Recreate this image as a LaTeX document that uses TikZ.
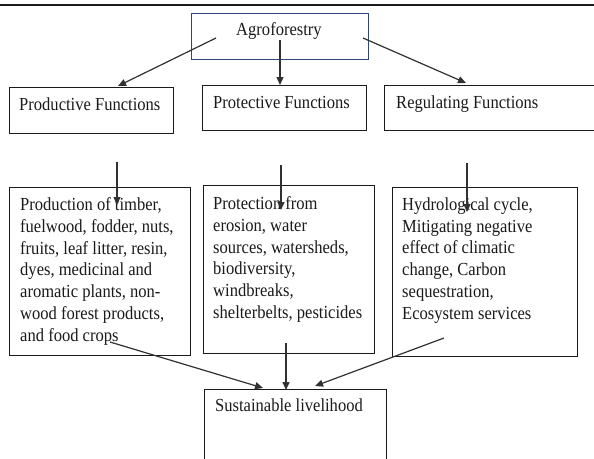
\documentclass[tikz,border=0pt]{standalone}
\usepackage{fontspec}
\setmainfont{Liberation Serif}
\newfontfamily\reffont[FakeStretch=0.9]{Liberation Serif}
\usetikzlibrary{arrows.meta}
\definecolor{navy}{HTML}{2E4677}
\definecolor{ink}{HTML}{1A1A1A}
\begin{document}
\begin{tikzpicture}[x=1pt,y=-1pt,
  box/.style={draw=ink, line width=1.3pt, inner sep=0pt, anchor=north west},
  txt/.style={inner sep=0pt, text=ink, font=\reffont\fontsize{18.4}{21.8}\selectfont, align=left},
  arr/.style={draw=ink!90, line width=1.2pt, -{Triangle[length=8pt,width=7pt]}}]
\clip (0,0) rectangle (594,458);
\fill[white] (0,0) rectangle (594,458);
% top rule
\coordinate (rl) at (0,5);
\coordinate (rr) at (594,5);
\draw[line width=2pt, draw=ink] (rl) -- (rr);
% boxes
\node[box, draw=navy, minimum width=177pt, minimum height=46pt] (agro) at (191,13) {};
\node[box, minimum width=164pt, minimum height=46pt] (prod) at (9,87) {};
\node[box, minimum width=164pt, minimum height=45pt] (prot) at (202,85) {};
\node[box, minimum width=230pt, minimum height=45pt] (regu) at (384,85) {};
\node[box, minimum width=181pt, minimum height=168pt] (pbox) at (9,187) {};
\node[box, minimum width=171pt, minimum height=168pt] (tbox) at (203,185) {};
\node[box, minimum width=185pt, minimum height=169pt] (hbox) at (392,187) {};
\node[box, minimum width=182pt, minimum height=90pt] (sust) at (204,389) {};
% texts
\node[txt, anchor=base] (agrot) at (279,35) {Agroforestry};
\node[txt, anchor=base west] (prodt) at (19,110) {Productive Functions};
\node[txt, anchor=base west] (prott) at (213,108) {Protective Functions};
\node[txt, anchor=base west] (regut) at (396,108) {Regulating Functions};
\node[txt, anchor=north west] (pboxt) at (20,197.4) {Production of timber,\\fuelwood, fodder, nuts,\\fruits, leaf litter, resin,\\dyes, medicinal and\\aromatic plants, non-\\wood forest products,\\and food crops};
\node[txt, anchor=north west] (tboxt) at (213,196.4) {Protection from\\erosion, water\\sources, watersheds,\\biodiversity,\\windbreaks,\\shelterbelts, pesticides};
\node[txt, anchor=north west] (hboxt) at (402,197.4) {Hydrological cycle,\\Mitigating negative\\effect of climatic\\change, Carbon\\sequestration,\\Ecosystem services};
\node[txt, anchor=base west] (sustt) at (215,411.5) {Sustainable livelihood};
% connector end points
\coordinate (a1s) at (216,38);  \coordinate (a1e) at (118,86);
\coordinate (a2s) at (280,40);  \coordinate (a2e) at (280,85);
\coordinate (a3s) at (363,38);  \coordinate (a3e) at (466,83);
\coordinate (b1s) at (117,162); \coordinate (b1e) at (117,205);
\coordinate (b2s) at (281,165); \coordinate (b2e) at (281,210);
\coordinate (b3s) at (467,163); \coordinate (b3e) at (467,212);
\coordinate (c1s) at (110,342); \coordinate (c1e) at (263,388);
\coordinate (c2s) at (286,343); \coordinate (c2e) at (286,390);
\coordinate (c3s) at (444,338); \coordinate (c3e) at (315,386);
\draw[arr] (a1s) -- (a1e);
\draw[arr] (a2s) -- (a2e);
\draw[arr] (a3s) -- (a3e);
\draw[arr] (b1s) -- (b1e);
\draw[arr] (b2s) -- (b2e);
\draw[arr] (b3s) -- (b3e);
\draw[arr] (c1s) -- (c1e);
\draw[arr] (c2s) -- (c2e);
\draw[arr] (c3s) -- (c3e);
\end{tikzpicture}
\end{document}
